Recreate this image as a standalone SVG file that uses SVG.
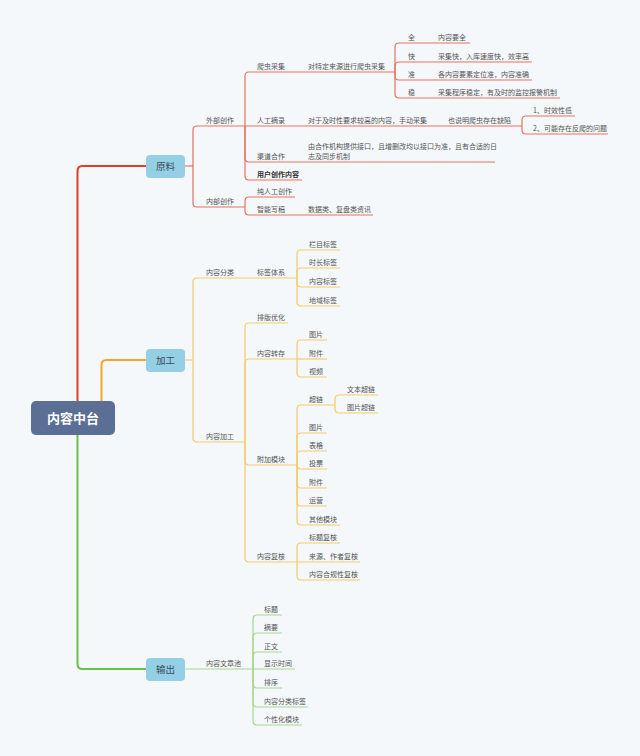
<svg xmlns="http://www.w3.org/2000/svg" width="640" height="756" viewBox="0 0 640 756">
<style>
text{font-family:"Noto Sans CJK SC","Noto Sans",sans-serif;}
.t{font-size:7px;fill:#555;}
.tb{font-size:7px;fill:#333;font-weight:bold;}
.bn{fill:#94cfe5;}
.bt{font-size:9.5px;fill:#3d4b5c;text-anchor:middle;}
.rt{fill:none;stroke:#e23d25;stroke-width:2;}
.ot{fill:none;stroke:#f5a623;stroke-width:2;}
.gt{fill:none;stroke:#6cc04a;stroke-width:2;}
.r path{fill:none;stroke:#e6735d;stroke-width:1.2;}
.o path{fill:none;stroke:#f6cc68;stroke-width:1.2;}
.g path{fill:none;stroke:#a8d78f;stroke-width:1.2;}
</style>
<rect width="640" height="756" fill="#f4f8fb"/>
<g id="connectors">
<path class="rt" d="M77.5 401 V171 Q77.5 166 82.5 166 H146"/>
<path class="ot" d="M101.5 401 V365 Q101.5 360 106.5 360 H146"/>
<path class="gt" d="M77.5 435 V664 Q77.5 669 82.5 669 H146"/>
<g class="r">
<path d="M185 166 H193"/>
<path d="M193 166 V130 Q193 126 197 126 H245"/>
<path d="M193 166 V203 Q193 207 197 207 H245"/>
<path d="M245 126 V76 Q245 72 249 72 H395"/>
<path d="M245 126 H522"/>
<path d="M245 126 V158 Q245 162 249 162 H495"/>
<path d="M245 126 V176 Q245 180 249 180 H302"/>
<path d="M395 72 V47 Q395 43 399 43 H470"/>
<path d="M395 72 V66 Q395 62 399 62 H532"/>
<path d="M395 72 V76 Q395 80 399 80 H532"/>
<path d="M395 72 V94 Q395 98 399 98 H560"/>
<path d="M522 126 V120 Q522 116 526 116 H575"/>
<path d="M522 126 V130 Q522 134 526 134 H608"/>
<path d="M245 207 V201 Q245 197 249 197 H295"/>
<path d="M245 207 V211 Q245 215 249 215 H373"/>
</g>
<g class="o">
<path d="M185 360 H193"/>
<path d="M193 360 V282 Q193 278 197 278 H297"/>
<path d="M193 360 V438 Q193 442 197 442 H245"/>
<path d="M297 278 V254 Q297 250 301 250 H340"/>
<path d="M297 278 V272 Q297 268 301 268 H340"/>
<path d="M297 278 V283 Q297 287 301 287 H340"/>
<path d="M297 278 V302 Q297 306 301 306 H340"/>
<path d="M245 442 V327 Q245 323 249 323 H288"/>
<path d="M245 442 V363 Q245 359 249 359 H297"/>
<path d="M245 442 V461 Q245 465 249 465 H297"/>
<path d="M245 442 V558 Q245 562 249 562 H297"/>
<path d="M297 359 V344 Q297 340 301 340 H327"/>
<path d="M297 359 H327"/>
<path d="M297 359 V373 Q297 377 301 377 H327"/>
<path d="M297 465 V409 Q297 405 301 405 H335"/>
<path d="M297 465 V437 Q297 433 301 433 H327"/>
<path d="M297 465 V455 Q297 451 301 451 H327"/>
<path d="M297 465 Q297 469 301 469 H327"/>
<path d="M297 465 V484 Q297 488 301 488 H327"/>
<path d="M297 465 V502 Q297 506 301 506 H327"/>
<path d="M297 465 V521 Q297 525 301 525 H340"/>
<path d="M335 405 V399 Q335 395 339 395 H378"/>
<path d="M335 405 V409 Q335 413 339 413 H378"/>
<path d="M297 562 V547 Q297 543 301 543 H340"/>
<path d="M297 562 H360"/>
<path d="M297 562 V576 Q297 580 301 580 H360"/>
</g>
<g class="g">
<path d="M185 669 H253"/>
<path d="M253 669 V619 Q253 615 257 615 H282"/>
<path d="M253 669 V637 Q253 633 257 633 H282"/>
<path d="M253 669 V656 Q253 652 257 652 H282"/>
<path d="M253 669 H295"/>
<path d="M253 669 V684 Q253 688 257 688 H282"/>
<path d="M253 669 V703 Q253 707 257 707 H308"/>
<path d="M253 669 V721 Q253 725 257 725 H302"/>
</g>
</g>
<g id="root">
<rect x="31" y="401" width="84" height="34" rx="5" fill="#5b6f95"/>
<text x="73" y="422.5" font-size="13" font-weight="bold" fill="#fff" text-anchor="middle">内容中台</text>
</g>
<g id="yuanliao"><rect class="bn" x="146" y="155" width="39" height="23" rx="4"/><text class="bt" x="165.5" y="169.8">原料</text></g>
<g id="jiagong"><rect class="bn" x="146" y="349" width="39" height="23" rx="4"/><text class="bt" x="165.5" y="363.8">加工</text></g>
<g id="shuchu"><rect class="bn" x="146" y="658" width="39" height="23" rx="4"/><text class="bt" x="165.5" y="672.8">输出</text></g>
<g id="waibu"><text class="t" x="206" y="122.5">外部创作</text></g>
<g id="neibu"><text class="t" x="206" y="203.5">内部创作</text></g>
<g id="pachong"><text class="t" x="257" y="68.5">爬虫采集</text></g>
<g id="pachong-d"><text class="t" x="308" y="68.5">对特定来源进行爬虫采集</text></g>
<g id="quan"><text class="t" x="408" y="39.5">全</text><text class="t" x="438" y="39.5">内容要全</text></g>
<g id="kuai"><text class="t" x="408" y="58.5">快</text><text class="t" x="438" y="58.5">采集快，入库速度快，效率高</text></g>
<g id="zhun"><text class="t" x="408" y="76.5">准</text><text class="t" x="438" y="76.5">各内容要素定位准，内容准确</text></g>
<g id="wen"><text class="t" x="408" y="94.5">稳</text><text class="t" x="438" y="94.5">采集程序稳定，有及时的监控报警机制</text></g>
<g id="rengong"><text class="t" x="257" y="122.5">人工摘录</text></g>
<g id="rengong-d"><text class="t" x="308" y="122.5">对于及时性要求较高的内容，手动采集</text></g>
<g id="rengong-q"><text class="t" x="448" y="122.5">也说明爬虫存在缺陷</text></g>
<g id="q1"><text class="t" x="533" y="112.5">1、时效性低</text></g>
<g id="q2"><text class="t" x="533" y="130.5">2、可能存在反爬的问题</text></g>
<g id="qudao"><text class="t" x="257" y="158.5">渠道合作</text></g>
<g id="qudao-d"><text class="t" x="308" y="149.4">由合作机构提供接口，且增删改均以接口为准，且有合适的日</text><text class="t" x="308" y="158.8">志及同步机制</text></g>
<g id="yonghu"><text class="tb" x="257" y="176.5">用户创作内容</text></g>
<g id="chunrengong"><text class="t" x="257" y="193.5">纯人工创作</text></g>
<g id="zhineng"><text class="t" x="257" y="211.5">智能写稿</text></g>
<g id="zhineng-d"><text class="t" x="308" y="211.5">数据类、复盘类资讯</text></g>
<g id="fenlei"><text class="t" x="206" y="274.5">内容分类</text></g>
<g id="biaoqian"><text class="t" x="257" y="274.5">标签体系</text></g>
<g id="lanmu"><text class="t" x="309" y="246.5">栏目标签</text></g>
<g id="shichang"><text class="t" x="309" y="264.5">时长标签</text></g>
<g id="neirongbq"><text class="t" x="309" y="283.5">内容标签</text></g>
<g id="diyu"><text class="t" x="309" y="302.5">地域标签</text></g>
<g id="jiagong2"><text class="t" x="206" y="438.5">内容加工</text></g>
<g id="paiban"><text class="t" x="257" y="319.5">排版优化</text></g>
<g id="zhuancun"><text class="t" x="257" y="355.5">内容转存</text></g>
<g id="zc-tp"><text class="t" x="309" y="336.5">图片</text></g>
<g id="zc-fj"><text class="t" x="309" y="355.5">附件</text></g>
<g id="zc-sp"><text class="t" x="309" y="373.5">视频</text></g>
<g id="fujia"><text class="t" x="257" y="461.5">附加模块</text></g>
<g id="chaolian"><text class="t" x="309" y="401.5">超链</text></g>
<g id="wenben"><text class="t" x="347" y="391.5">文本超链</text></g>
<g id="tupianchl"><text class="t" x="347" y="409.5">图片超链</text></g>
<g id="fj-tp"><text class="t" x="309" y="429.5">图片</text></g>
<g id="fj-bg"><text class="t" x="309" y="447.5">表格</text></g>
<g id="fj-tpiao"><text class="t" x="309" y="465.5">投票</text></g>
<g id="fj-fj"><text class="t" x="309" y="484.5">附件</text></g>
<g id="fj-yy"><text class="t" x="309" y="502.5">运营</text></g>
<g id="fj-qt"><text class="t" x="309" y="521.5">其他模块</text></g>
<g id="fuhe"><text class="t" x="257" y="558.5">内容复核</text></g>
<g id="fh-bt"><text class="t" x="309" y="539.5">标题复核</text></g>
<g id="fh-ly"><text class="t" x="309" y="558.5">来源、作者复核</text></g>
<g id="fh-hg"><text class="t" x="309" y="576.5">内容合规性复核</text></g>
<g id="wenzhangchi"><text class="t" x="206" y="665.5">内容文章池</text></g>
<g id="sc-bt"><text class="t" x="264" y="611.5">标题</text></g>
<g id="sc-zy"><text class="t" x="264" y="629.5">摘要</text></g>
<g id="sc-zw"><text class="t" x="264" y="648.5">正文</text></g>
<g id="sc-sj"><text class="t" x="264" y="665.5">显示时间</text></g>
<g id="sc-px"><text class="t" x="264" y="684.5">排序</text></g>
<g id="sc-fl"><text class="t" x="264" y="703.5">内容分类标签</text></g>
<g id="sc-gx"><text class="t" x="264" y="721.5">个性化模块</text></g>
</svg>
